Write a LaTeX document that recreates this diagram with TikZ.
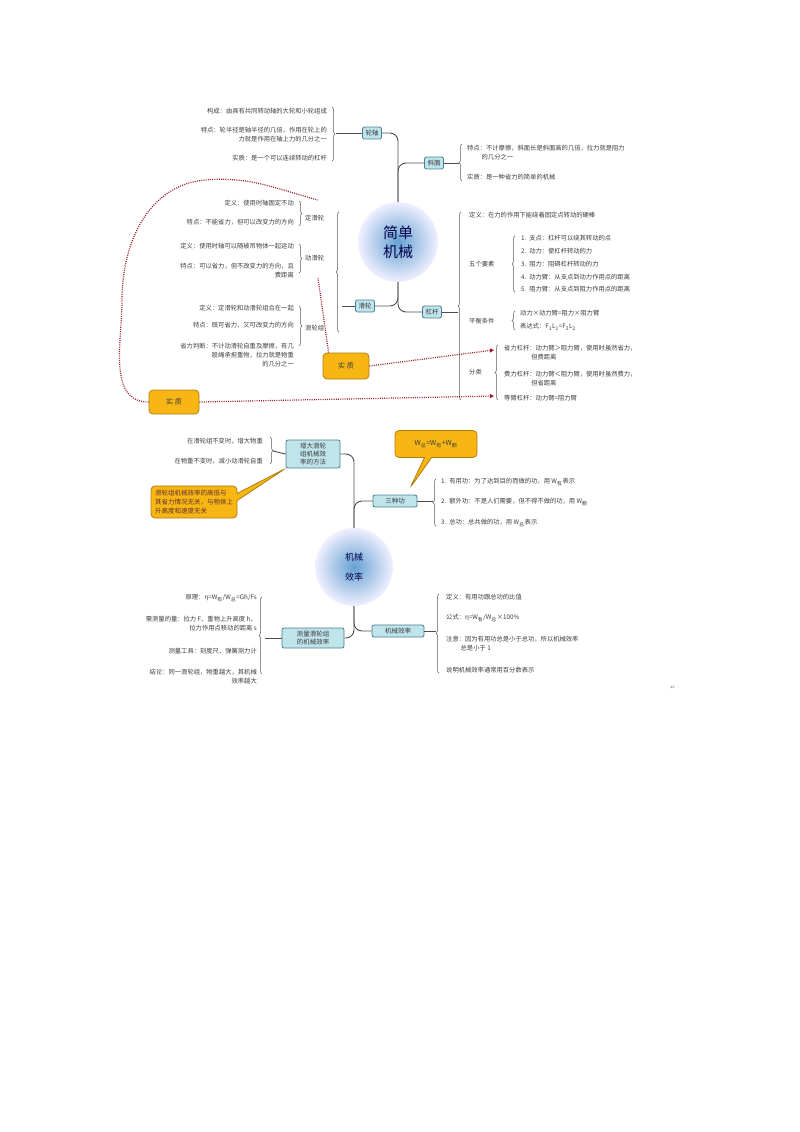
\documentclass[tikz,border=0pt]{standalone}
\usepackage{fontspec}
\setmainfont{Noto Sans CJK SC}
\newfontfamily\symfont{DejaVu Sans}
\usetikzlibrary{positioning}
\usetikzlibrary{decorations.pathreplacing}
\usetikzlibrary{arrows.meta}
\usetikzlibrary{shapes.callouts}

\definecolor{boxfill}{HTML}{BFE4EC}
\definecolor{boxline}{HTML}{4A7F8C}
\definecolor{gold}{HTML}{F7B614}
\definecolor{txt}{HTML}{3C3C3C}
\definecolor{dotred}{HTML}{A0192A}
\newcommand{\sbx}[1]{\textsubscript{\tiny #1}}

\tikzset{
  topic/.style = {draw=boxline, fill=boxfill, rounded corners=2pt, line width=0.8pt,
                  font=\fontsize{6.5}{8}\selectfont, text=txt, inner sep=3pt, align=center},
  core/.style  = {circle, minimum size=80pt, shading=radial, inner color=blue!45!cyan!70!black!60,
                  outer color=blue!6, font=\fontsize{15}{19}\selectfont, text=blue!30!black, align=center},
  lt/.style    = {anchor=east, align=right, font=\fontsize{6.3}{9}\selectfont, text=txt, inner sep=1pt},
  rt/.style    = {anchor=west, align=left, font=\fontsize{6.3}{9}\selectfont, text=txt, inner sep=1pt},
  brc/.style   = {decorate, decoration={brace, amplitude=3pt}, draw=gray!70!black, line width=0.5pt},
  trunk/.style = {draw=gray!60!black, line width=0.9pt, rounded corners=8pt},
  gold box/.style = {draw=gold!70!black, fill=gold, rounded corners=4pt, line width=0.8pt,
                  font=\fontsize{7}{9}\selectfont, text=txt},
  dots/.style  = {draw=dotred, line width=1.2pt, dash pattern=on 1pt off 1.2pt},
  dot tip/.style = {-{Triangle[length=4pt,width=4pt,fill=dotred]}},
}

\begin{document}
\begin{tikzpicture}[x=1pt,y=-1pt]
\useasboundingbox (0,0) rectangle (800,1132);

% ---- simple machines
\node (jd) [core] at (398,242) {简单\\机械};
\node (lz) [topic] at (372,133) {轮轴};
\node (xm) [topic] at (434,163) {斜面};
\node (hl) [topic] at (365,306) {滑轮};
\node (gg) [topic] at (432,312) {杠杆};

\draw[trunk] (lz.east) -| (jd.north);
\draw[trunk] (xm.west) -| (jd.north);
\draw[trunk] (hl.east) -| (jd.south);
\draw[trunk] (gg.west) -| (jd.south);

% wheel and axle
\node (lz1) [lt] at (328,111) {构成：由具有共同转动轴的大轮和小轮组成};
\node (lz2) [lt] at (328,135) {特点：轮半径是轴半径的几倍，作用在轮上的\\力就是作用在轴上力的几分之一};
\node (lz3) [lt] at (328,158) {实质：是一个可以连续转动的杠杆};
\draw[brc] (332,107) -- (332,161);
\draw[trunk] (336,133) -- (lz.west);

% slope
\draw[brc] (462,181) -- (462,144);
\draw[trunk] (xm.east) -- (459,163);
\node (xm1) [rt] at (466,153) {特点：不计摩擦，斜面长是斜面高的几倍，拉力就是阻力\\\hspace{2.3em}的几分之一};
\node (xm2) [rt] at (466,177) {实质：是一种省力的简单的机械};

% lever
\draw[brc] (461,400) -- (461,212);
\draw[trunk] (gg.east) -- (458,312);
\node (gg1) [rt] at (468,215) {定义：在力的作用下能绕着固定点转动的硬棒};
\node (gg2) [rt] at (468,264) {五个要素};
\draw[brc] (515,292) -- (515,236);
\node (gg2a) [rt] at (520,238) {1.\ \ 支点：杠杆可以绕其转动的点};
\node (gg2b) [rt] at (520,251) {2.\ \ 动力：使杠杆转动的力};
\node (gg2c) [rt] at (520,264) {3.\ \ 阻力：阻碍杠杆转动的力};
\node (gg2d) [rt] at (520,277) {4.\ \ 动力臂：从支点到动力作用点的距离};
\node (gg2e) [rt] at (520,289) {5.\ \ 阻力臂：从支点到阻力作用点的距离};
\node (gg3) [rt] at (468,321) {平衡条件};
\draw[brc] (515,330) -- (515,311);
\node (gg3a) [rt] at (519,313) {动力×动力臂=阻力×阻力臂};
\node (gg3b) [rt] at (519,327) {表达式：F\sbx{1}L\sbx{1}=F\sbx{2}L\sbx{2}};
\node (gg4) [rt] at (468,372) {分类};
\draw[brc] (498,400) -- (498,345);
\node (gg4a) [rt] at (503,353) {省力杠杆：动力臂＞阻力臂，使用时虽然省力，\\\hspace{4.3em}但费距离};
\node (gg4b) [rt] at (503,379) {费力杠杆：动力臂＜阻力臂，使用时虽然费力，\\\hspace{4.3em}但省距离};
\node (gg4c) [rt] at (503,398) {等臂杠杆：动力臂=阻力臂};

% pulleys
\draw[brc] (339,332) -- (339,212);
\draw[trunk] (342,306) -- (hl.west);
\node (dh) [rt] at (304,218) {定滑轮};
\node (dh1) [lt] at (295,203) {定义：使用时轴固定不动};
\node (dh2) [lt] at (295,222) {特点：不能省力，但可以改变力的方向};
\draw[brc] (299,201) -- (299,226);
\node (dd) [rt] at (304,258) {动滑轮};
\node (dd1) [lt] at (295,246) {定义：使用时轴可以随被吊物体一起运动};
\node (dd2) [lt] at (295,271) {特点：可以省力，但不改变力的方向，且\\费距离};
\draw[brc] (299,244) -- (299,273);
\node (hz) [rt] at (304,328) {滑轮组};
\node (hz1) [lt] at (295,308) {定义：定滑轮和动滑轮组合在一起};
\node (hz2) [lt] at (295,325) {特点：既可省力，又可改变力的方向};
\node (hz3) [lt] at (295,355) {省力判断：不计动滑轮自重及摩擦，有几\\股绳承担重物，拉力就是物重\\的几分之一};
\draw[brc] (299,306) -- (299,346);

% essence boxes
\node (sz1) [gold box, minimum width=46pt, minimum height=26pt] at (346,366) {实\ 质};
\node (sz2) [gold box, minimum width=50pt, minimum height=24pt] at (174,402) {实\ 质};
\coordinate (a1) at (494,350);
\coordinate (a2) at (494,396);
\draw[dots, dot tip] (sz1.east) -- (a1);
\draw[dots, dot tip] (sz2.east) -- (a2);
\draw[dots] (sz1.north west) ++(6,0) -- (318,278);
\draw[dots] (sz2.west) to[out=180,in=-90] (122,300) to[out=90,in=185] (205,180) to[out=5,in=165] (318,200);

% ---- efficiency
\node (jx) [core, minimum size=78pt, font=\fontsize{9}{20}\selectfont] at (354,567) {机械\\效率};
\node (zd) [topic, minimum width=54pt] at (313,454) {增大滑轮\\组机械效\\率的方法};
\node (sg) [topic, minimum width=44pt] at (395,501) {三种功};
\node (cl) [topic, minimum width=62pt] at (313,638) {测量滑轮组\\的机械效率};
\node (xl) [topic, minimum width=52pt] at (398,631) {机械效率};

\draw[trunk] (zd.east) -| (jx.north);
\draw[trunk] (sg.west) -| (jx.north);
\draw[trunk] (cl.east) -| (jx.south);
\draw[trunk] (xl.west) -| (jx.south);

\node (zd1) [lt] at (264,441) {在滑轮组不变时，增大物重};
\node (zd2) [lt] at (264,461) {在物重不变时，减小动滑轮自重};
\draw[brc] (270,437) -- (270,464);
\draw[trunk] (273,451) -- (zd.west);

\node (sg1) [rt] at (440,482) {1.\ \ 有用功：为了达到目的而做的功，用 W\sbx{有}表示};
\node (sg2) [rt] at (440,502) {2.\ \ 额外功：不是人们需要，但不得不做的功，用 W\sbx{额}};
\node (sg3) [rt] at (440,523) {3.\ \ 总功：总共做的功，用 W\sbx{总}表示};
\draw[brc] (436,526) -- (436,479);
\draw[trunk] (sg.east) -- (433,501);

\node (cl1) [lt] at (258,598) {原理：η=W\sbx{有}/W\sbx{总}=Gh/Fs};
\node (cl2) [lt] at (258,624) {需测量的量：拉力 F、重物上升高度 h、\\拉力作用点移动的距离 s};
\node (cl3) [lt] at (258,651) {测量工具：刻度尺、弹簧测力计};
\node (cl4) [lt] at (258,677) {结论：同一滑轮组，物重越大，其机械\\效率越大};
\draw[brc] (262,674) -- (262,597);
\draw[trunk] (265,638) -- (cl.west);

\node (xl1) [rt] at (445,597) {定义：有用功跟总功的比值};
\node (xl2) [rt] at (445,618) {公式：η=W\sbx{有}/W\sbx{总}×100\%};
\node (xl3) [rt] at (445,644) {注意：因为有用功总是小于总功，所以机械效率\\\hspace{2.3em}总是小于 1};
\node (xl4) [rt] at (445,670) {说明机械效率通常用百分数表示};
\draw[brc] (439,673) -- (439,594);
\draw[trunk] (xl.east) -- (436,631);

% callouts
\node (co1) [gold box, rectangle callout, callout absolute pointer={(zd.south west)},
             align=left, font=\fontsize{6.5}{9}\selectfont, text=txt!80!red, inner sep=4pt]
  at (194,502) {滑轮组机械效率的高低与\\其省力情况无关，与物体上\\升高度和速度无关};
\node (co2) [gold box, rectangle callout, callout absolute pointer={(410,488)},
             minimum width=82pt, minimum height=27pt]
  at (436,444) {W\sbx{总}=W\sbx{有}+W\sbx{额}};

\node (ret) [font=\symfont\fontsize{6}{6}\selectfont, text=gray] at (673,688) {↵};
\end{tikzpicture}
\end{document}
